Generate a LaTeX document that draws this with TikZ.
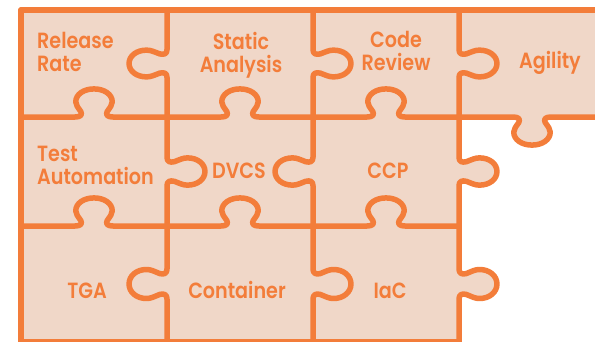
\documentclass[tikz,border=0pt]{standalone}
\usepackage{fontspec}
\newfontfamily\piecefont{Poppins SemiBold}[FakeStretch=0.87]
\usepackage{tikz}
\definecolor{puzzleorange}{RGB}{243,125,58}
\definecolor{puzzlefill}{RGB}{240,215,200}
\tikzstyle{seam}=[draw=puzzleorange, line width=5.5pt, line join=round, line cap=round]
\tikzstyle{paper}=[fill=puzzlefill]
\tikzstyle{word}=[text=puzzleorange, font=\piecefont\fontsize{22}{23}\selectfont, inner sep=0pt]
\tikzstyle{hup}=[x={(146pt,0pt)}, y={(0pt,108pt)}]
\tikzstyle{hdown}=[x={(146pt,0pt)}, y={(0pt,-108pt)}]
\tikzset{
  vleft/.style={x={(0pt,-#1pt)}, y={(-146pt,0pt)}},
  vright/.style={x={(0pt,-#1pt)}, y={(146pt,0pt)}}
}
\newcommand{\knob}{-- (0.37,0) .. controls (0.41,0) and (0.42,0.02) .. (0.41,0.05)
  .. controls (0.39,0.09) and (0.375,0.11) .. (0.375,0.14)
  .. controls (0.375,0.21) and (0.43,0.26) .. (0.5,0.26)
  .. controls (0.57,0.26) and (0.625,0.21) .. (0.625,0.14)
  .. controls (0.625,0.11) and (0.61,0.09) .. (0.59,0.05)
  .. controls (0.58,0.02) and (0.59,0) .. (0.63,0) -- (1,0)}

\begin{document}
\begin{tikzpicture}[x=1pt, y=-1pt]
	\useasboundingbox (0,0) rectangle (595,341);
	\begin{scope}
		\fill[paper] (21,10) rectangle (605,117);
		\fill[paper] (21,117) rectangle (459,342);
		\fill[paper, shift={(459,117)}, hdown] (0,0) \knob -- cycle;
		\foreach \py/\h in {117/109, 226/116}
			\fill[paper, shift={(459,\py)}, vright=\h] (0,0) \knob -- cycle;
	\end{scope}
	\begin{scope}
		\draw[seam] (21,10) -- (605,10);
		\draw[seam] (21,10) -- (21,342) -- (459,342);
		\foreach \px/\py in {21/117, 167/117, 313/117, 21/226, 167/226, 313/226}
			\draw[seam, shift={(\px,\py)}, hup] (0,0) \knob;
		\draw[seam, shift={(459,117)}, hdown] (0,0) \knob;
		\foreach \px/\py/\h in {167/117/109, 313/10/107, 313/226/116, 459/10/107, 459/117/109, 459/226/116}
			\draw[seam, shift={(\px,\py)}, vright=\h] (0,0) \knob;
		\foreach \px/\py/\h in {167/10/107, 167/226/116, 313/117/109}
			\draw[seam, shift={(\px,\py)}, vleft=\h] (0,0) \knob;
	\end{scope}
	\begin{scope}
		\node[word, anchor=north west, align=left] (rr) at (37,32) {Release\\Rate};
		\node[word, anchor=north, align=center] (sa) at (241,32) {Static\\Analysis};
		\node[word, anchor=north, align=center] (cr) at (396,31) {Code\\Review};
		\node[word, anchor=base] (ag) at (550,68) {Agility};
		\node[word, anchor=north west, align=left] (ta) at (37,146) {Test\\Automation};
		\node[word, anchor=base] (dv) at (239,178) {DVCS};
		\node[word, anchor=base] (ccp) at (388,178) {CCP};
		\node[word, anchor=base] (tga) at (87,298) {TGA};
		\node[word, anchor=base] (ct) at (237,298) {Container};
		\node[word, anchor=base] (iac) at (390,298) {IaC};
	\end{scope}
\end{tikzpicture}
\end{document}
